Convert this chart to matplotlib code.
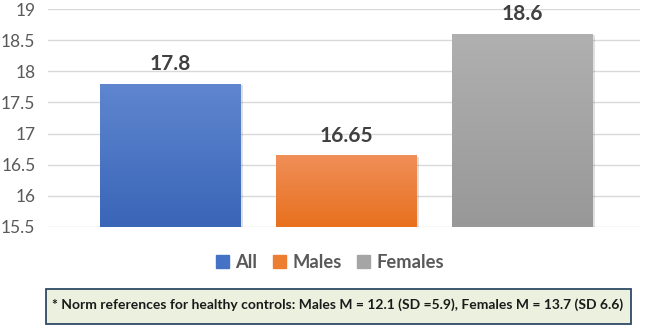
import matplotlib
matplotlib.use('Agg')
from matplotlib import pyplot as plt
from matplotlib.patches import Rectangle, FancyBboxPatch
import matplotlib.colors as mcolors
import numpy as np

plt.rcParams['font.family'] = ['Lato', 'DejaVu Sans']

# data
groups = ['All', 'Males', 'Females']
values = [17.8, 16.65, 18.6]
labels = ['17.8', '16.65', '18.6']
yticks = [15.5, 16, 16.5, 17, 17.5, 18, 18.5, 19]
top_colors = ['#5f86cf', '#f08f58', '#b0b0b0']
bottom_colors = ['#3a66b8', '#e8701e', '#989898']
solid_colors = ['#4472c4', '#ed7d31', '#a5a5a5']
note = '* Norm references for healthy controls: Males M = 12.1 (SD =5.9), Females M = 13.7 (SD 6.6)'

fig = plt.figure(figsize=(6.46, 3.27), dpi=100)
ax = fig.add_axes([48/646, 100/327, 592/646, 218/327])

x = np.arange(len(groups))
width = 0.8
bars = ax.bar(x, values, width, bottom=0, color='none', zorder=2)

# vertical gradient fills, clipped to each bar
for b, ct, cb in zip(bars, top_colors, bottom_colors):
    c1 = np.array(mcolors.to_rgb(ct))
    c2 = np.array(mcolors.to_rgb(cb))
    t = np.linspace(0, 1, 100)[:, None]
    grad = (c2 * (1 - t) + c1 * t)[:, None, :]
    x0 = b.get_x()
    im = ax.imshow(grad, extent=[x0, x0 + b.get_width(), 15.5, b.get_height()],
                   origin='lower', aspect='auto', zorder=2)
    im.set_clip_path(b)
    # soft shadow
    ax.add_patch(Rectangle((x0 + 0.012, 15.5), b.get_width(), b.get_height() - 15.5 - 0.02,
                           color='#000000', alpha=0.12, zorder=1.5, lw=0))

for xi, v, lab in zip(x, values, labels):
    ax.annotate(lab, xy=(xi, v), xytext=(0, 7), textcoords='offset points',
                ha='center', va='bottom', fontsize=15, fontweight='bold', color='#404040')

ax.set_xlim(-0.693, 2.67)
ax.set_ylim(15.5, 19)
ax.set_yticks(yticks)
ax.set_yticklabels([('%g' % v) for v in yticks])
ax.tick_params(axis='y', length=0, labelsize=12.5, labelcolor='#595959', pad=9)
ax.set_xticks([])
ax.grid(axis='y', color='#d9d9d9', lw=1, zorder=0)
ax.set_axisbelow(True)
for s in ax.spines.values():
    s.set_visible(False)

# legend
handles = [Rectangle((0, 0), 1, 1, color=c) for c in solid_colors]
leg = fig.legend(handles, groups, loc='center', bbox_to_anchor=(330/646, 1 - 262/327),
                 ncol=3, frameon=False, handlelength=0.7, handleheight=0.7,
                 handletextpad=0.35, columnspacing=0.85,
                 prop={'size': 13.2, 'weight': 'bold'})
for t in leg.get_texts():
    t.set_color('#595959')

# note box
box = FancyBboxPatch((46/646, 3/327), (631 - 46)/646, 35/327, boxstyle='square,pad=0',
                     transform=fig.transFigure, facecolor='#ebf1de', edgecolor='#2f4a66', lw=1.3)
fig.patches.append(box)
fig.text(338/646, 1 - 305/327, note, ha='center', va='center', fontsize=10,
         fontweight='bold', color='#1a1a1a')

plt.savefig('out.png', dpi=100)
